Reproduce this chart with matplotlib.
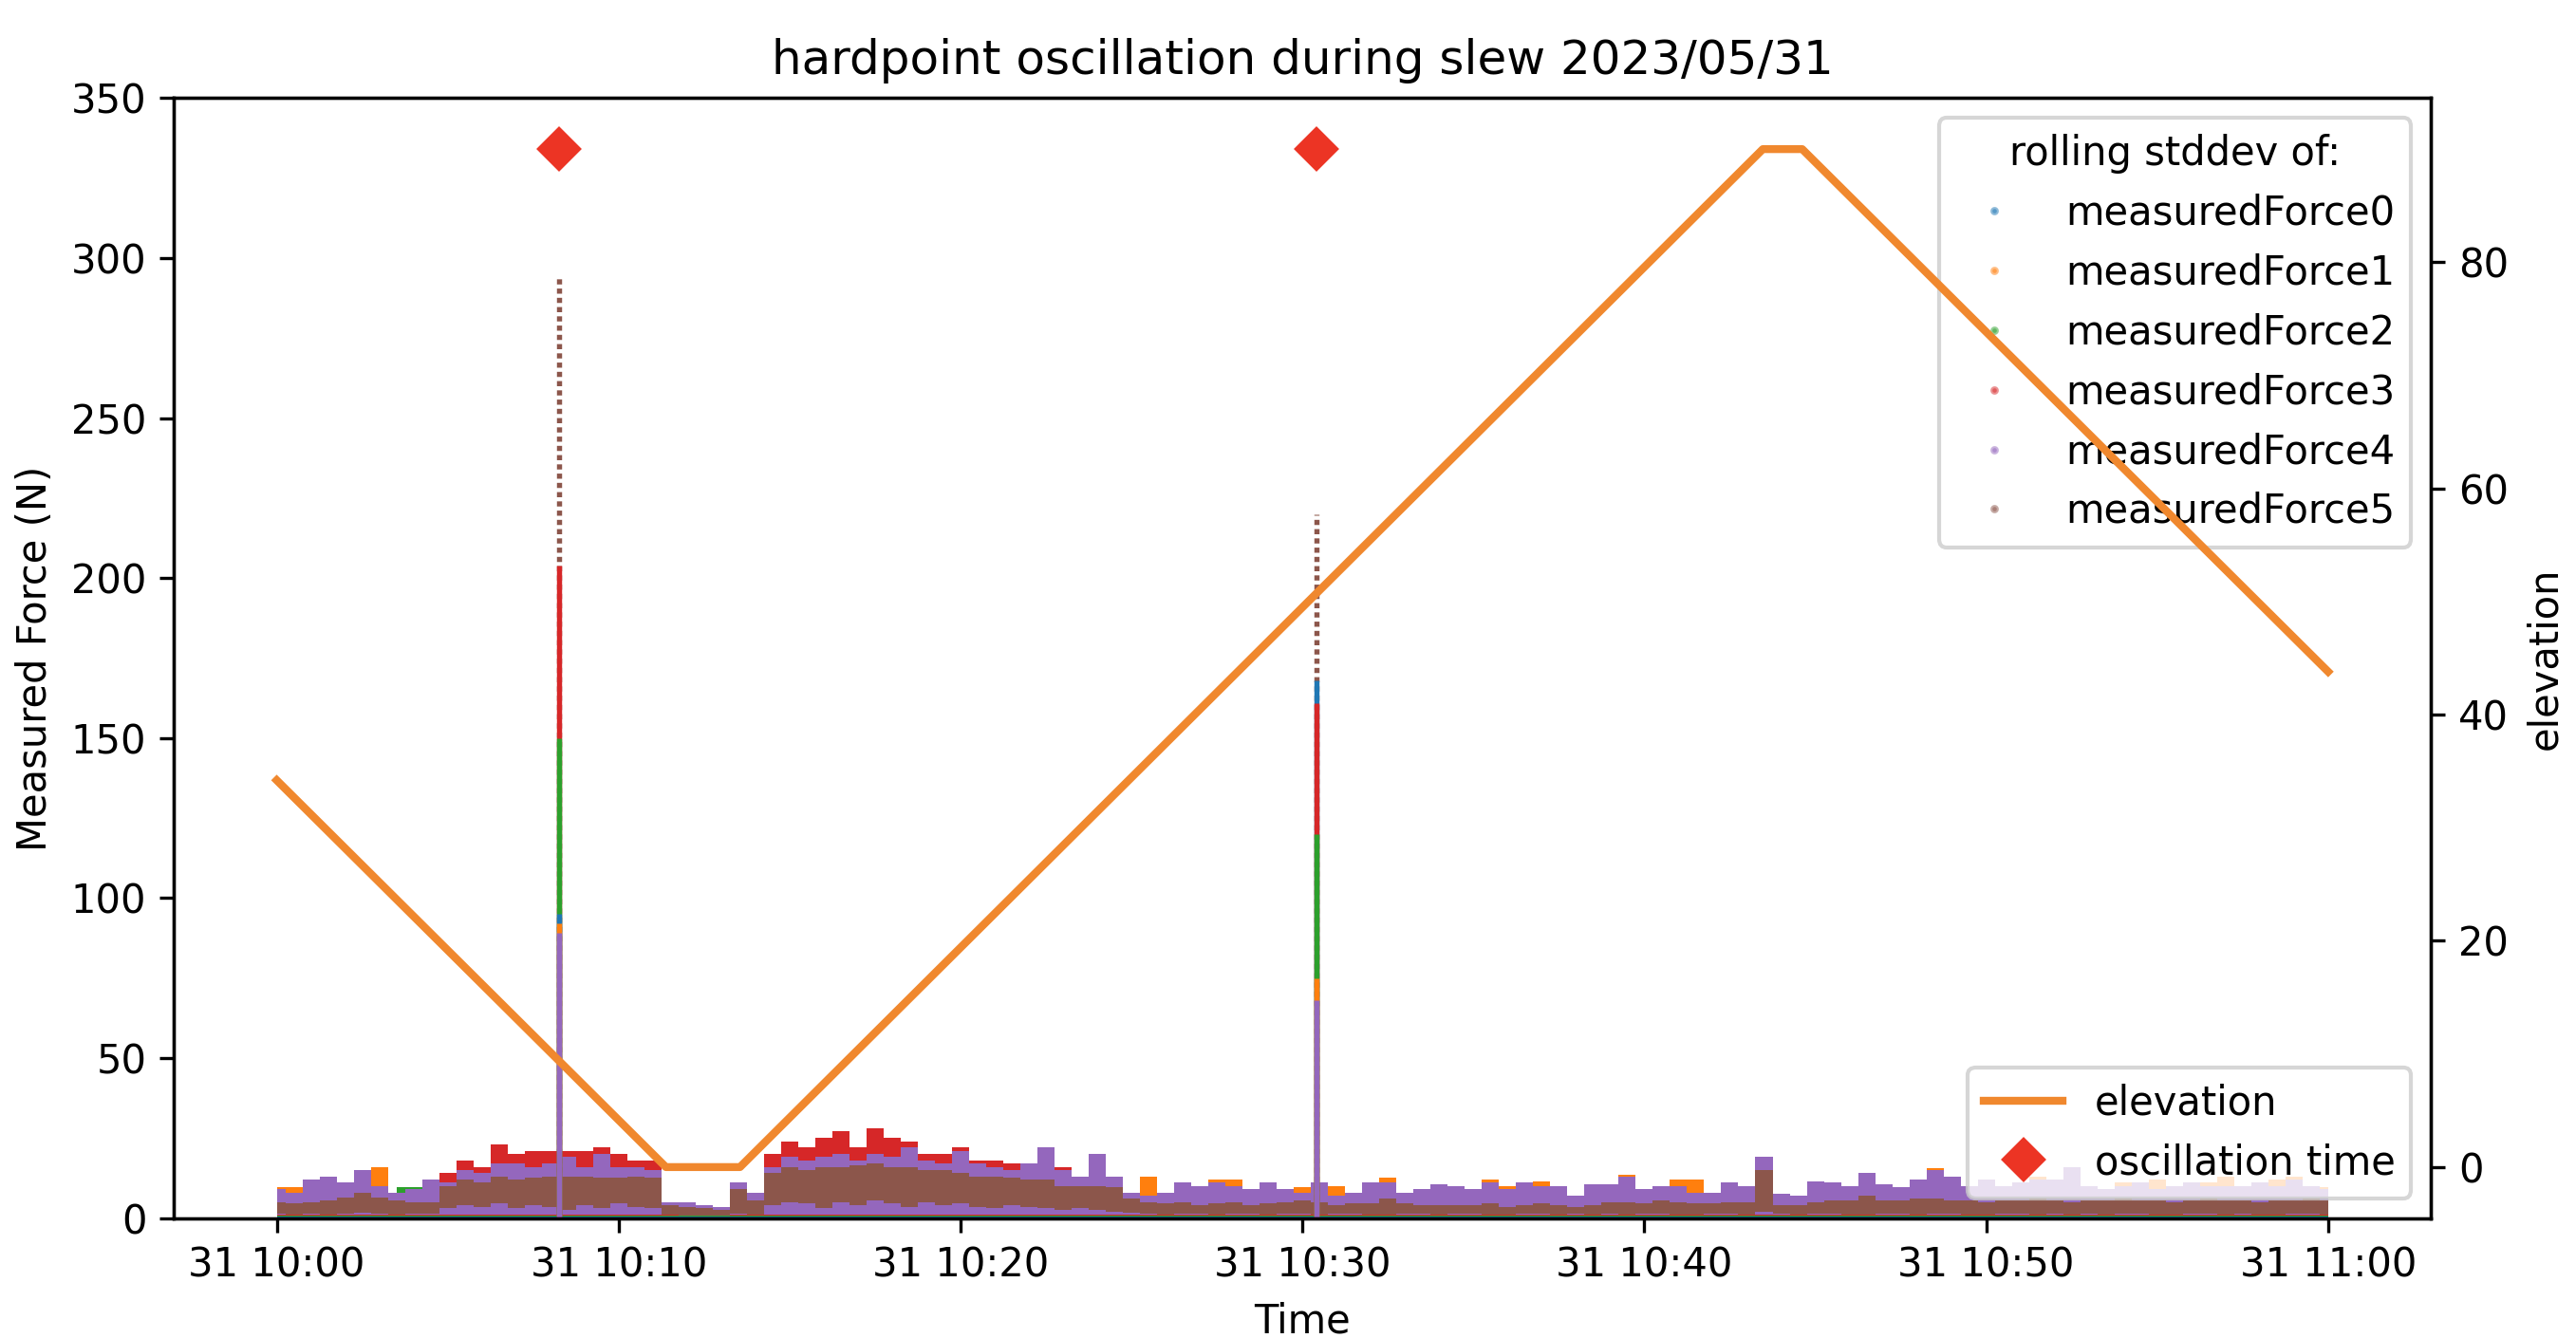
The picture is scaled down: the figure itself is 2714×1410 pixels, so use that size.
import numpy as np
import pandas as pd
import matplotlib
matplotlib.use('Agg')
import matplotlib.pyplot as plt
import matplotlib.dates as mdates

day = '2023-05-31 '

# rolling stddev samples, every 30 s from 10:00 to 11:00
t30 = pd.date_range(day + '10:00:00', day + '11:00:00', freq='30s').to_numpy()
# coarser series, every minute
t60 = pd.date_range(day + '10:00:00', day + '11:00:00', freq='60s').to_numpy()

force_names = ['measuredForce0', 'measuredForce1', 'measuredForce2',
               'measuredForce3', 'measuredForce4', 'measuredForce5']
force_colors = ['C0', 'C1', 'C2', 'C3', 'C4', 'C5']

force0 = [3.5, 4, 5, 5, 5, 7, 8, 9, 9, 10, 9, 4, 3, 2.5, 4, 11, 11, 11, 11, 10,
          10, 9, 9, 8, 7, 5,
          3, 3, 3.5, 3, 3, 3.5, 3, 3, 3.5, 3, 3, 3.5, 3, 3, 3.5, 3, 3, 3.5, 6, 3,
          3, 3.5, 3, 3, 3.5, 3, 3, 3.5, 3, 3, 3.5, 3, 3, 3.5, 3]

force1 = [9.5, 9.5, 10, 9, 10, 12, 16, 7, 8, 9,
          10, 12, 10, 12, 11, 12, 11, 12, 11, 12, 11, 10, 10,
          3, 3, 3, 2.5, 7, 5,
          13, 14, 13, 14, 14, 13, 14, 13, 12, 12, 11, 11, 11, 10, 10, 10, 10, 9, 9, 9, 8,
          7, 13, 7, 10, 9, 12, 12, 8, 10, 8,
          9.5, 10, 10, 7, 10, 12.5, 7, 8, 10, 9.5,
          8, 12, 10, 10, 11.5, 9, 6, 10, 10, 13.5,
          8, 9.5, 12, 12, 7, 10, 9, 17, 7, 6.5,
          11, 10, 9.5, 13, 10, 9, 11.5, 15.5, 12,
          9.5, 11, 9.5, 10, 13, 11, 14, 9.5, 8, 11, 10, 12, 9.5, 10, 11, 13, 9, 10,
          12, 13, 9.5, 9.5]

force2 = [4, 5, 6, 6, 9.5, 8, 9, 10, 10, 11, 10, 4.5, 3, 2.5, 5, 12, 12, 11, 12, 11,
          10, 10, 9, 8, 8, 5,
          3.5, 3, 3.5, 3.5, 3, 3.5, 3, 3.5, 3.5, 3, 3.5, 3, 3.5, 3.5, 3, 3.5, 3.5, 3,
          7, 3, 3.5, 3.5, 3, 3.5, 3, 3.5, 3.5, 3, 3.5, 3, 3.5, 3, 3.5, 3.5, 3]

force3 = [6, 5, 7, 8, 8, 10, 8, 7, 6, 7,
          14, 18, 16, 23, 20, 21, 21, 21, 21, 22, 20, 18, 18,
          4.5, 4, 3.5, 3, 8, 6,
          20, 24, 22, 25, 27, 22, 28, 25, 24, 20, 20, 22, 18, 18, 17, 16.5, 18, 16, 12.5, 15, 12,
          6,
          3.5, 3, 3.5, 4, 3.5, 3, 3.5, 3.5, 4, 3,
          3.5, 3, 3.5, 4, 3, 3.5, 3.5, 3, 3.5, 4,
          3.5, 3, 3.5, 3.5, 3, 3.5, 3, 3.5, 4, 3.5,
          3, 3.5, 3.5, 3, 3.5, 3.5, 8, 3, 3.5, 3.5,
          3.5, 3, 3.5, 4, 3.5, 3.5, 4, 3.5, 3.5, 3,
          3.5, 3.5, 4, 3.5, 3, 3.5, 3.5, 4, 3.5, 3,
          3.5, 3.5, 3, 3.5, 4, 3.5, 3.5, 3, 3.5, 3.5]

force4 = [9, 8, 12, 13, 11, 15, 10, 8, 9, 12,
          11, 15, 14, 17, 17, 16, 17, 19, 16, 20, 16, 16, 15,
          5, 5, 4, 3.5, 11, 8,
          16, 19, 18, 19, 20, 18, 20, 19, 22, 18, 17, 21, 17, 16, 15, 17, 22, 15, 13, 20, 13,
          8, 7, 8, 11, 10, 11, 10, 9, 11, 9,
          8, 11, 7, 8, 11, 11, 8, 9, 10.5, 10,
          9, 11, 9, 11, 10, 10, 7, 10.5, 10.5, 13,
          9, 10, 10, 8, 8, 11, 10, 19, 7.5, 7,
          11.5, 11, 10, 14, 10.5, 9.5, 12, 15, 13,
          10, 12, 10, 11, 12, 12, 16, 10, 9, 10, 11, 9, 10, 11, 10, 10, 10, 11, 10,
          12, 10, 9]

force5 = [5, 4.5, 5, 5.5, 6.5, 8, 6.5, 5.5, 5, 5,
          10, 12, 11, 13, 12, 12.5, 13, 13, 13, 12.5, 12.5, 13, 12.5,
          4, 3.5, 3, 2.5, 9, 5.5,
          14, 16, 15, 16, 16, 16.5, 17, 16, 16, 15, 15, 14, 13, 13, 12.5, 12, 12, 10, 10, 10, 9.5,
          6, 5, 4.5, 5, 4, 4.5, 5, 4, 4.5, 5,
          5.5, 5, 4, 4.5, 4.5, 6, 4.5, 4, 4, 4,
          4, 4.5, 3.5, 4, 4.5, 4, 3.5, 4, 5, 5,
          4.5, 5.5, 5, 4.5, 4.5, 5, 5, 15, 4, 4,
          5, 5.5, 5.5, 7, 5.5, 5.5, 6, 6, 5.5,
          5.5, 5, 5.5, 5.5, 6, 5.5, 5, 5.5, 5.5, 6, 5.5, 5.5, 5, 5.5, 6, 5.5, 5.5, 5,
          5.5, 5.5, 6, 5.5]

# lower edge of the measuredForce5 band
force5_low = [1.2, 1.0, 1.3, 1.0, 1.2, 1.5, 1.2, 1.0, 1.3, 1.2,
              3.0, 4.0, 3.5, 4.5, 3.0, 4.0, 3.5, 2.5, 4.0, 3.0, 4.5, 3.5, 3.0,
              1.0, 0.8, 0.8, 0.8, 1.2, 1.0,
              4.0, 5.0, 4.5, 3.0, 5.0, 4.0, 5.5, 4.5, 3.5, 5.0, 4.0, 4.5, 3.5, 3.0, 4.0,
              3.5, 3.0, 2.5, 3.0, 2.5, 2.0,
              1.5, 1.2, 1.0, 1.3, 1.2, 1.0, 1.4, 1.2, 1.0, 1.2, 1.3,
              1.0, 1.2, 1.4, 1.1, 1.0, 1.3, 1.2, 1.0, 1.2, 1.4,
              1.1, 1.0, 1.2, 1.3, 1.0, 1.2, 1.1, 1.3, 1.0, 1.2,
              1.4, 1.1, 1.0, 1.2, 1.3, 1.0, 2.0, 1.2, 1.0, 1.3,
              1.2, 1.0, 1.1, 1.3, 1.2, 1.0, 1.2, 1.4, 1.1, 1.0,
              1.2, 1.3, 1.0, 1.2, 1.1, 1.3, 1.0, 1.2, 1.4, 1.1,
              1.0, 1.2, 1.3, 1.0, 1.2, 1.1, 1.0, 1.3, 1.2, 1.0]
force_floor = [0.0, 0.4, 0.6, 0.8, 1.0]

# the two oscillation bursts: peak stddev per force
spike_times = ['10:08:15', '10:30:25']
spike1_peak = [95, 92, 150, 204, 89, 294]
spike2_peak = [168, 75, 120, 161, 68, 220]

elev_times = ['10:00:00', '10:11:23', '10:13:33', '10:43:28', '10:44:37', '11:00:00']
elev_deg = [34.2, 0.0, 0.0, 90.0, 90.0, 43.8]

osc_times = ['10:08:15', '10:30:25']
osc_level = [90, 90]

fig = plt.figure(figsize=(2714 / 300, 1410 / 300), dpi=300)
ax = fig.add_axes([0.0676, 0.0897, 0.876, 0.8369])

bands = [(t60, force_floor[0], force0), (t30, force_floor[1], force1),
         (t60, force_floor[2], force2), (t30, force_floor[3], force3),
         (t30, force_floor[4], force4), (t30, force5_low, force5)]
for k, (t, lo, hi) in enumerate(bands):
    ax.fill_between(t, lo, hi, step='mid', color=force_colors[k], lw=0)

for st, peaks in zip(spike_times, [spike1_peak, spike2_peak]):
    when = pd.Timestamp(day + st)
    order = np.argsort(peaks)[::-1]
    for n, k in enumerate(order):
        ax.vlines(when, 0, peaks[k], color=force_colors[k], lw=1.3,
                  linestyles=(0, (1, 0.8)) if n == 0 else 'solid')

for k in range(6):
    ax.plot([], [], '.', ms=2.2, alpha=0.5, color=force_colors[k], label=force_names[k])

ax.set_ylim(0, 350)
ax.set_ylabel('Measured Force (N)')
ax.set_xlabel('Time')
ax.set_title('hardpoint oscillation during slew 2023/05/31')
ax.xaxis.set_major_locator(mdates.MinuteLocator(byminute=[0, 10, 20, 30, 40, 50]))
ax.xaxis.set_major_formatter(mdates.DateFormatter('%d %H:%M'))
ax.legend(title='rolling stddev of:', loc='upper right')

ax2 = ax.twinx()
ax2.plot(pd.to_datetime([day + s for s in elev_times]), elev_deg,
         color='#f0882e', lw=2, label='elevation')
ax2.plot(pd.to_datetime([day + s for s in osc_times]), osc_level, ls='',
         marker='D', ms=7, color='#ec3424', label='oscillation time')
ax2.set_ylabel('elevation')
ax2.legend(loc='lower right')

fig.savefig('out.png', dpi=300)
